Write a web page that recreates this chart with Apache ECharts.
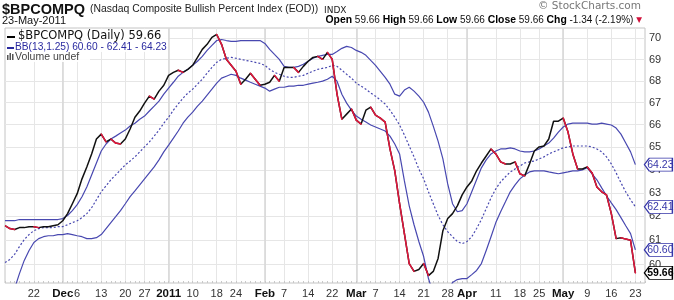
<!DOCTYPE html>
<html>
<head>
<meta charset="utf-8">
<script src="https://cdn.jsdelivr.net/npm/echarts@6/dist/echarts.min.js"></script>
<style>html,body{margin:0;padding:0;background:#fff;}#c{width:674px;height:300px;}</style>
</head>
<body>
<div id="c"></div>
<script>
const categories = [
'2010-11-12','2010-11-15','2010-11-16','2010-11-17','2010-11-18','2010-11-19','2010-11-22','2010-11-23','2010-11-24','2010-11-26','2010-11-29','2010-11-30',
'2010-12-01','2010-12-02','2010-12-03','2010-12-06','2010-12-07','2010-12-08','2010-12-09','2010-12-10','2010-12-13','2010-12-14','2010-12-15','2010-12-16','2010-12-17','2010-12-20','2010-12-21','2010-12-22','2010-12-23','2010-12-27','2010-12-28','2010-12-29','2010-12-30','2010-12-31',
'2011-01-03','2011-01-04','2011-01-05','2011-01-06','2011-01-07','2011-01-10','2011-01-11','2011-01-12','2011-01-13','2011-01-14','2011-01-18','2011-01-19','2011-01-20','2011-01-21','2011-01-24','2011-01-25','2011-01-26','2011-01-27','2011-01-28','2011-01-31',
'2011-02-01','2011-02-02','2011-02-03','2011-02-04','2011-02-07','2011-02-08','2011-02-09','2011-02-10','2011-02-11','2011-02-14','2011-02-15','2011-02-16','2011-02-17','2011-02-18','2011-02-22','2011-02-23','2011-02-24','2011-02-25','2011-02-28',
'2011-03-01','2011-03-02','2011-03-03','2011-03-04','2011-03-07','2011-03-08','2011-03-09','2011-03-10','2011-03-11','2011-03-14','2011-03-15','2011-03-16','2011-03-17','2011-03-18','2011-03-21','2011-03-22','2011-03-23','2011-03-24','2011-03-25','2011-03-28','2011-03-29','2011-03-30','2011-03-31',
'2011-04-01','2011-04-04','2011-04-05','2011-04-06','2011-04-07','2011-04-08','2011-04-11','2011-04-12','2011-04-13','2011-04-14','2011-04-15','2011-04-18','2011-04-19','2011-04-20','2011-04-21','2011-04-25','2011-04-26','2011-04-27','2011-04-28','2011-04-29',
'2011-05-02','2011-05-03','2011-05-04','2011-05-05','2011-05-06','2011-05-09','2011-05-10','2011-05-11','2011-05-12','2011-05-13','2011-05-16','2011-05-17','2011-05-18','2011-05-19','2011-05-20','2011-05-23'
];
// two empty slots after the last session (right-side padding of the plot)
const padSlots = ['', ' '];

const closeVals = [
61.61,61.49,61.45,61.53,61.53,61.57,61.57,61.53,61.57,61.57,61.61,61.65,
61.82,62.12,62.54,62.97,63.61,64.13,64.70,65.36,65.58,65.23,65.36,65.18,65.14,65.36,65.81,66.34,66.62,66.98,67.30,67.16,67.53,67.80,
68.26,68.40,68.50,68.40,68.54,68.73,69.10,69.48,69.72,70.05,70.19,69.72,69.01,68.73,68.45,67.85,68.08,68.36,68.08,67.80,
67.85,67.94,68.26,67.99,68.63,68.63,68.63,68.40,68.68,68.92,69.10,69.15,69.01,69.34,69.01,67.39,66.25,66.48,66.71,
66.21,66.03,66.66,66.80,66.43,66.30,66.12,64.92,63.96,62.54,61.28,60.04,59.72,59.80,60.04,59.55,59.72,60.25,61.40,61.91,62.12,62.45,62.92,
63.26,63.52,63.96,64.30,64.61,64.92,64.70,64.35,64.26,64.26,64.35,63.83,63.74,64.26,64.83,65.01,65.05,65.36,66.16,66.16,
66.30,65.67,64.70,64.04,64.04,64.13,63.87,63.26,63.05,62.92,62.12,61.07,61.11,61.05,61.00,59.66
];
const bbUpper = [
61.82,61.82,61.82,61.87,61.87,61.87,61.87,61.87,61.87,61.87,61.87,61.87,
61.91,62.04,62.25,62.50,62.84,63.26,63.78,64.30,64.83,65.14,65.36,65.49,65.63,65.76,65.94,66.07,66.25,66.39,66.62,66.84,67.07,67.39,
67.67,67.94,68.22,68.40,68.54,68.73,68.92,69.15,69.43,69.67,69.90,69.95,69.90,69.86,69.86,69.90,69.90,69.90,69.90,69.90,
69.76,69.48,69.24,69.01,68.68,68.63,68.63,68.68,68.78,68.92,69.06,69.15,69.20,69.24,69.24,69.38,69.53,69.62,69.57,
69.43,69.34,69.20,68.96,68.73,68.45,68.17,67.85,67.39,67.30,67.58,67.71,67.53,67.30,67.02,66.57,65.94,65.27,64.48,63.39,62.54,62.20,62.25,
62.54,63.05,63.57,64.09,64.44,64.70,64.83,64.92,64.92,64.97,64.92,64.83,64.79,64.79,64.83,64.92,65.05,65.18,65.40,65.67,
65.90,66.03,66.07,66.07,66.07,66.07,66.03,66.03,66.07,66.03,65.99,65.85,65.58,65.18,64.79,64.23
];
const bbMiddle = [
60.08,60.21,60.42,60.74,61.03,61.24,61.40,61.49,61.53,61.53,61.53,61.57,
61.57,61.65,61.74,61.82,61.95,62.12,62.37,62.71,63.05,63.31,63.57,63.78,64.00,64.22,64.39,64.57,64.79,65.01,65.23,65.49,65.76,66.07,
66.34,66.66,66.94,67.21,67.44,67.62,67.85,68.08,68.36,68.63,68.87,69.01,69.06,69.10,69.06,69.01,68.96,68.92,68.87,68.82,
68.73,68.54,68.40,68.31,68.22,68.17,68.17,68.22,68.26,68.36,68.45,68.54,68.59,68.63,68.73,68.68,68.50,68.31,68.13,
67.90,67.76,67.62,67.44,67.30,67.12,66.94,66.66,66.34,65.99,65.54,65.05,64.57,64.04,63.61,63.05,62.54,62.04,61.65,61.36,61.15,60.95,60.86,
60.95,61.15,61.49,61.87,62.33,62.79,63.18,63.48,63.70,63.91,64.04,64.17,64.30,64.35,64.39,64.48,64.57,64.70,64.79,64.88,
64.97,65.01,65.05,65.05,65.05,65.05,65.01,64.92,64.79,64.57,64.26,63.87,63.44,63.05,62.71,62.41
];
const bbLower = [
58.23,58.63,59.03,59.63,60.17,60.58,60.91,61.07,61.15,61.19,61.19,61.24,
61.24,61.28,61.24,61.19,61.15,61.07,61.07,61.11,61.24,61.49,61.74,61.99,62.25,62.54,62.84,63.09,63.35,63.61,63.87,64.13,64.44,64.79,
65.09,65.40,65.72,66.07,66.34,66.57,66.84,67.07,67.35,67.62,67.90,68.13,68.22,68.31,68.26,68.13,68.04,67.94,67.85,67.76,
67.67,67.53,67.62,67.71,67.71,67.76,67.76,67.80,67.80,67.85,67.90,67.94,67.99,68.08,68.22,67.99,67.39,66.98,66.66,
66.39,66.25,66.12,65.99,65.90,65.81,65.72,65.49,65.14,64.70,63.52,62.45,61.65,60.95,60.33,59.43,58.83,58.43,58.43,58.83,59.27,59.39,59.43,
59.43,59.59,59.76,60.04,60.58,61.15,61.74,62.20,62.62,63.05,63.35,63.61,63.78,63.91,63.96,63.96,63.96,63.91,63.87,63.83,
63.87,63.91,63.96,63.96,64.00,64.09,63.83,63.57,63.22,62.88,62.58,62.29,61.95,61.61,61.28,60.60
];
const tickDates = ['2010-11-22','2010-12-01','2010-12-06','2010-12-13','2010-12-20','2010-12-27','2011-01-03','2011-01-10','2011-01-18','2011-01-24',
'2011-02-01','2011-02-07','2011-02-14','2011-02-22','2011-03-01','2011-03-07','2011-03-14','2011-03-21','2011-03-28','2011-04-01','2011-04-11','2011-04-18','2011-04-25',
'2011-05-02','2011-05-09','2011-05-16','2011-05-23'];
const tickTexts = ['22','Dec','6','13','20','27','2011','10','18','24','Feb','7','14','22','Mar','7','14','21','28','Apr','11','18','25','May','9','16','23'];
const monthDates = ['2010-12-01','2011-01-03','2011-02-01','2011-03-01','2011-04-01','2011-05-02'];
const yTicks = [60,61,62,63,64,65,66,67,68,69,70];

const BLUE = '#4848b0';
const RED = '#e2163c';
const xData = categories.concat(padSlots);
const tickMap = {};
tickDates.forEach((d, k) => { tickMap[d] = tickTexts[k]; });
const isMonth = d => monthDates.indexOf(d) >= 0;
const last = categories.length - 1;

const redSegs = [];
for (let i = 1; i < closeVals.length; i++) redSegs.push([i, closeVals[i - 1], closeVals[i]]);

function tag(value, color, bold) {
  return {
    data: [{
      coord: [last, value],
      symbol: 'path://M0,6 L6,0 L34,0 L34,12 L6,12 Z',
      symbolSize: [28, 13],
      symbolOffset: [23, 0],
      symbolKeepAspect: false,
      itemStyle: { color: '#fff', borderColor: color, borderWidth: 1 },
      label: { show: true, position: 'inside', formatter: value.toFixed(2), color: color, fontSize: 10.5, fontWeight: bold ? 'bold' : 'normal', fontFamily: 'Liberation Sans', offset: [2, 0] }
    }],
    animation: false, silent: true, z: 20
  };
}

const chart = echarts.init(document.getElementById('c'), null, { renderer: 'canvas' });
chart.setOption({
  animation: false,
  backgroundColor: '#fff',
  grid: { left: 5, right: 29, top: 28, bottom: 17, show: true, borderColor: '#c4c4c4', borderWidth: 1, containLabel: false },
  xAxis: [{
    type: 'category', data: xData, boundaryGap: false,
    axisLine: { show: false },
    axisTick: { show: true, inside: true, length: 2, interval: 0, lineStyle: { color: '#c8c8c8' } },
    axisLabel: {
      interval: (idx, v) => tickMap[v] !== undefined,
      formatter: v => isMonth(v) ? '{m|' + tickMap[v] + '}' : tickMap[v],
      color: '#333', fontSize: 11, fontFamily: 'Liberation Sans', margin: 5,
      rich: { m: { fontWeight: 'bold', color: '#111', fontSize: 11.5, fontFamily: 'Liberation Sans' } }
    },
    splitLine: { show: true, interval: (idx, v) => tickMap[v] !== undefined, lineStyle: { color: '#e6e6e6', width: 1 } }
  }, {
    type: 'category', data: xData, boundaryGap: false, position: 'bottom',
    axisLine: { show: false }, axisTick: { show: false }, axisLabel: { show: false },
    splitLine: { show: true, interval: (idx, v) => isMonth(v), lineStyle: { color: '#d9d9d9', width: 1.6 } }
  }],
  yAxis: {
    type: 'log', logBase: 10, min: 59.25, max: 70.5, position: 'right',
    axisLine: { show: false },
    axisTick: { show: false, customValues: yTicks },
    axisLabel: { customValues: yTicks, formatter: v => String(Math.round(v)), color: '#333', fontSize: 11, fontFamily: 'Liberation Sans', margin: 4 },
    splitLine: { show: true, lineStyle: { color: '#e6e6e6', width: 1 } }
  },
  series: [
    { type: 'line', name: 'upper', data: bbUpper, symbol: 'none', lineStyle: { color: BLUE, width: 1.2 }, z: 3, markPoint: tag(64.23, '#3535a8', false) },
    { type: 'line', name: 'middle', data: bbMiddle, symbol: 'none', lineStyle: { color: BLUE, width: 1.2, type: [2, 2] }, z: 3, markPoint: tag(62.41, '#3535a8', false) },
    { type: 'line', name: 'lower', data: bbLower, symbol: 'none', lineStyle: { color: BLUE, width: 1.2 }, z: 3, markPoint: tag(60.60, '#3535a8', false) },
    { type: 'line', name: 'close', data: closeVals, symbol: 'none', lineStyle: { color: '#111', width: 1.5 }, z: 4, markPoint: tag(59.66, '#000', true) },
    {
      type: 'custom', name: 'down', data: redSegs, encode: { x: 0, y: [1, 2] }, z: 5, clip: true,
      renderItem: function (params, api) {
        const i = api.value(0), p = api.value(1), c = api.value(2);
        if (!(c < p)) return null;
        const a = api.coord([i - 1, p]);
        const b = api.coord([i, c]);
        return { type: 'line', shape: { x1: a[0], y1: a[1], x2: b[0], y2: b[1] }, style: { stroke: RED, lineWidth: 1.5, lineCap: 'round' } };
      }
    }
  ],
  graphic: [
    { type: 'text', left: 2, top: 2, style: { text: '$BPCOMPQ', font: 'bold 14.5px "Liberation Sans"', fill: '#111' } },
    { type: 'text', left: 90, top: 4, style: { text: '(Nasdaq Composite Bullish Percent Index (EOD))', font: '10.4px "Liberation Sans"', fill: '#222' } },
    { type: 'text', left: 324, top: 6, style: { text: 'INDX', font: '9px "DejaVu Sans"', fill: '#222' } },
    { type: 'text', right: 33, top: 1, style: { text: '© StockCharts.com', font: '10.5px "DejaVu Sans"', fill: '#777' } },
    { type: 'text', left: 2, top: 15, style: { text: '23-May-2011', font: '11px "Liberation Sans"', fill: '#111' } },
    { type: 'text', right: 32, top: 15, style: {
      text: '{b|Open} 59.66 {b|High} 59.66 {b|Low} 59.66 {b|Close} 59.66 {b|Chg} -1.34 (-2.19%) {r|▼}',
      font: '10px "Liberation Sans"', fill: '#111',
      rich: { b: { font: 'bold 10.4px "Liberation Sans"', fill: '#000' }, r: { font: '7.5px "DejaVu Sans"', fill: '#d0103a' } }
    } },
    { type: 'rect', shape: { x: 6, y: 29, width: 162, height: 23 }, style: { fill: 'rgba(255,255,255,0.92)' }, z: 100 },
    { type: 'rect', shape: { x: 6, y: 52, width: 84, height: 10 }, style: { fill: 'rgba(255,255,255,0.92)' }, z: 100 },
    { type: 'rect', shape: { x: 7, y: 36, width: 8, height: 2 }, style: { fill: '#000' }, z: 101 },
    { type: 'text', left: 18, top: 30, z: 101, style: { text: '$BPCOMPQ (Daily) 59.66', font: '11.5px "DejaVu Sans"', fill: '#111' } },
    { type: 'rect', shape: { x: 7, y: 47, width: 7, height: 2 }, style: { fill: '#2a2aa0' }, z: 101 },
    { type: 'text', left: 15, top: 42, z: 101, style: { text: 'BB(13,1.25) 60.60 - 62.41 - 64.23', font: '10.2px "Liberation Sans"', fill: '#2a2aa0' } },
    { type: 'rect', shape: { x: 7, y: 55, width: 1.5, height: 5 }, style: { fill: '#555' }, z: 101 },
    { type: 'rect', shape: { x: 9.5, y: 53, width: 1.5, height: 7 }, style: { fill: '#555' }, z: 101 },
    { type: 'rect', shape: { x: 12, y: 54, width: 1.5, height: 6 }, style: { fill: '#555' }, z: 101 },
    { type: 'text', left: 15, top: 52, z: 101, style: { text: 'Volume undef', font: '10.5px "Liberation Sans"', fill: '#444' } }
  ]
});
</script>
</body>
</html>
